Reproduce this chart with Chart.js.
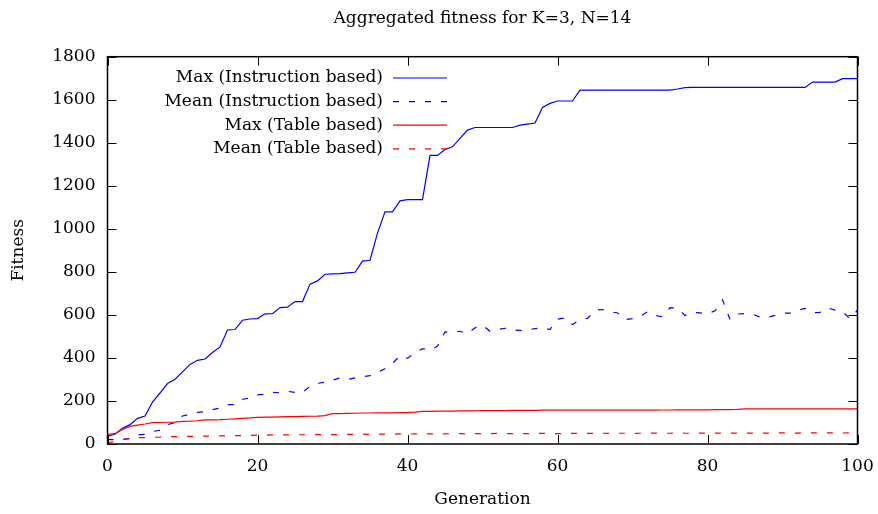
<!DOCTYPE html>
<html lang="en">
  <head>
    <meta charset="utf-8">
    <title>Aggregated fitness for K=3, N=14</title>
    <style>
      html, body { margin: 0; padding: 0; background: #fff; }
      #wrap { width: 878px; height: 514px; }
    </style>
  </head>
  <body>
    <div id="wrap"><canvas id="fitness-chart"></canvas></div>

    <script src="https://cdn.jsdelivr.net/npm/chart.js@4/dist/chart.umd.min.js"></script>
    <script>
    // fitness per generation
    const generations = Array.from({ length: 101 }, (_, i) => i);

    const maxInstruction = [
      36, 45, 73, 90, 119, 130, 195, 237, 281, 301,
      335, 370, 389, 395, 425, 451, 530, 532, 575, 581,
      583, 605, 606, 634, 636, 662, 662, 743, 758, 789,
      791, 792, 795, 798, 850, 854, 980, 1079, 1079, 1130,
      1136, 1136, 1136, 1341, 1341, 1369, 1381, 1420, 1459, 1471,
      1471, 1471, 1471, 1471, 1471, 1482, 1487, 1492, 1564, 1583,
      1594, 1594, 1594, 1645, 1645, 1645, 1645, 1645, 1645, 1645,
      1645, 1645, 1645, 1645, 1645, 1645, 1650, 1656, 1657, 1657,
      1657, 1657, 1657, 1657, 1657, 1657, 1657, 1657, 1657, 1657,
      1657, 1657, 1657, 1657, 1682, 1682, 1682, 1682, 1698, 1698,
      1698
    ];
    const meanInstruction = [
      20, 20, 22, 25, 42, 45, 58, 64, 90, 100,
      130, 138, 147, 150, 160, 167, 183, 183, 208, 214,
      228, 231, 240, 238, 245, 240, 240, 268, 282, 287,
      296, 307, 300, 307, 312, 318, 333, 350, 375, 410,
      398, 425, 443, 435, 455, 521, 518, 524, 512, 540,
      552, 524, 532, 538, 530, 528, 530, 536, 541, 532,
      580, 586, 555, 578, 584, 622, 625, 612, 610, 578,
      583, 592, 614, 598, 591, 634, 632, 597, 612, 609,
      606, 619, 670, 578, 604, 606, 603, 590, 588, 598,
      609, 608, 622, 630, 610, 612, 633, 622, 615, 583,
      622
    ];
    const maxTable = [
      45, 48, 68, 82, 88, 93, 99, 100, 101, 102,
      105, 106, 108, 112, 112, 113, 115, 117, 119, 121,
      124, 125, 125, 126, 127, 127, 128, 129, 130, 132,
      141, 141, 142, 143, 144, 144, 145, 145, 145, 146,
      146, 148, 152, 152, 153, 153, 153, 154, 154, 154,
      155, 155, 155, 155, 156, 156, 156, 156, 157, 157,
      157, 157, 157, 157, 157, 157, 157, 157, 157, 157,
      157, 157, 157, 157, 158, 158, 159, 159, 159, 159,
      159, 160, 160, 160, 161, 163, 163, 163, 163, 163,
      163, 163, 163, 163, 163, 163, 163, 163, 163, 163,
      163
    ];
    const meanTable = [
      5, 12, 20, 25, 29, 30, 31, 32, 34, 34,
      35, 35, 36, 37, 37, 38, 38, 39, 39, 40,
      41, 41, 42, 42, 42, 43, 43, 43, 44, 44,
      44, 44, 45, 45, 46, 45, 46, 46, 46, 47,
      46, 47, 47, 47, 48, 47, 48, 48, 47, 48,
      48, 48, 49, 48, 48, 49, 48, 49, 49, 49,
      48, 49, 50, 49, 49, 49, 50, 49, 50, 50,
      49, 50, 50, 51, 50, 50, 51, 50, 50, 51,
      50, 51, 51, 50, 51, 51, 51, 50, 51, 51,
      52, 51, 51, 52, 52, 51, 52, 52, 51, 52,
      52
    ];

    const xTicks = [0, 20, 40, 60, 80, 100];
    const yTicks = [0, 200, 400, 600, 800, 1000, 1200, 1400, 1600, 1800];

    const serif = '"DejaVu Serif", serif';
    const FONT_SIZE = 17;
    const BLUE = '#0000ff';
    const RED = '#ff0000';

    const pts = vals => generations.map((g, i) => ({ x: g, y: vals[i] }));

    // gnuplot-style frame with inward ticks on all four sides
    const framePlugin = {
      id: 'frame',
      afterDatasetsDraw(chart) {
        const { ctx, chartArea: a, scales: { x, y } } = chart;
        const len = 9;
        ctx.save();
        ctx.strokeStyle = '#000';
        ctx.lineWidth = 1;
        ctx.beginPath();
        xTicks.forEach(v => {
          const px = Math.round(x.getPixelForValue(v)) + 0.5;
          ctx.moveTo(px, a.bottom); ctx.lineTo(px, a.bottom - len);
          ctx.moveTo(px, a.top); ctx.lineTo(px, a.top + len);
        });
        yTicks.forEach(v => {
          const py = Math.round(y.getPixelForValue(v)) + 0.5;
          ctx.moveTo(a.left, py); ctx.lineTo(a.left + len, py);
          ctx.moveTo(a.right, py); ctx.lineTo(a.right - len, py);
        });
        ctx.stroke();
        ctx.lineWidth = 1.5;
        ctx.strokeRect(a.left, a.top, a.right - a.left, a.bottom - a.top);
        ctx.restore();
      }
    };

    // key in the upper left: right-aligned text followed by a line sample
    const keyPlugin = {
      id: 'key',
      afterDatasetsDraw(chart) {
        const { ctx } = chart;
        const textRight = 383, x0 = 393, x1 = 447, top = 78, step = 23.6;
        ctx.save();
        ctx.font = FONT_SIZE + 'px ' + serif;
        ctx.textAlign = 'right';
        ctx.textBaseline = 'middle';
        chart.data.datasets.forEach((ds, i) => {
          const yy = top + i * step;
          ctx.fillStyle = '#000';
          ctx.fillText(ds.label, textRight, yy);
          ctx.strokeStyle = ds.borderColor;
          ctx.lineWidth = ds.borderWidth;
          ctx.setLineDash(ds.borderDash || []);
          ctx.beginPath();
          ctx.moveTo(x0, yy); ctx.lineTo(x1, yy);
          ctx.stroke();
        });
        ctx.restore();
      }
    };

    new Chart(document.getElementById('fitness-chart'), {
      type: 'line',
      data: {
        datasets: [
          { label: 'Max (Instruction based)', data: pts(maxInstruction), borderColor: BLUE, borderWidth: 1.2, order: 4 },
          { label: 'Mean (Instruction based)', data: pts(meanInstruction), borderColor: BLUE, borderWidth: 1.2, borderDash: [6, 10], order: 3 },
          { label: 'Max (Table based)', data: pts(maxTable), borderColor: RED, borderWidth: 1.2, order: 2 },
          { label: 'Mean (Table based)', data: pts(meanTable), borderColor: RED, borderWidth: 1.2, borderDash: [6, 10], order: 1 }
        ]
      },
      options: {
        responsive: true,
        maintainAspectRatio: false,
        animation: false,
        layout: { padding: { left: 0, right: 20.5, top: 0, bottom: 0 } },
        elements: { point: { radius: 0 }, line: { tension: 0 } },
        plugins: {
          legend: { display: false },
          tooltip: { enabled: false },
          title: {
            display: true,
            fullSize: false,
            text: 'Aggregated fitness for K=3, N=14',
            color: '#000',
            font: { family: serif, size: FONT_SIZE, weight: 'normal', lineHeight: 1.2 },
            padding: { top: 8, bottom: 28.3 }
          }
        },
        scales: {
          x: {
            type: 'linear',
            min: 0,
            max: 100,
            afterBuildTicks: s => { s.ticks = xTicks.map(v => ({ value: v })); },
            afterFit: s => { s.height = 70; s.paddingLeft = 0; s.paddingRight = 0; },
            grid: { display: false, drawTicks: false },
            border: { display: false },
            ticks: { color: '#000', padding: 12, font: { family: serif, size: FONT_SIZE } },
            title: {
              display: true,
              text: 'Generation',
              color: '#000',
              font: { family: serif, size: FONT_SIZE, lineHeight: 1.2 },
              padding: { top: 0, bottom: 4 }
            }
          },
          y: {
            min: 0,
            max: 1800,
            afterBuildTicks: s => { s.ticks = yTicks.map(v => ({ value: v })); },
            afterFit: s => { s.width = 107.5; s.paddingTop = 0; s.paddingBottom = 0; },
            grid: { display: false, drawTicks: false },
            border: { display: false },
            ticks: {
              color: '#000',
              padding: 12,
              font: { family: serif, size: FONT_SIZE },
              callback: v => String(v)
            },
            title: {
              display: true,
              text: 'Fitness',
              color: '#000',
              font: { family: serif, size: FONT_SIZE, lineHeight: 1.2 },
              padding: { top: 8, bottom: 0 }
            }
          }
        }
      },
      plugins: [framePlugin, keyPlugin]
    });
    </script>
  </body>
</html>
